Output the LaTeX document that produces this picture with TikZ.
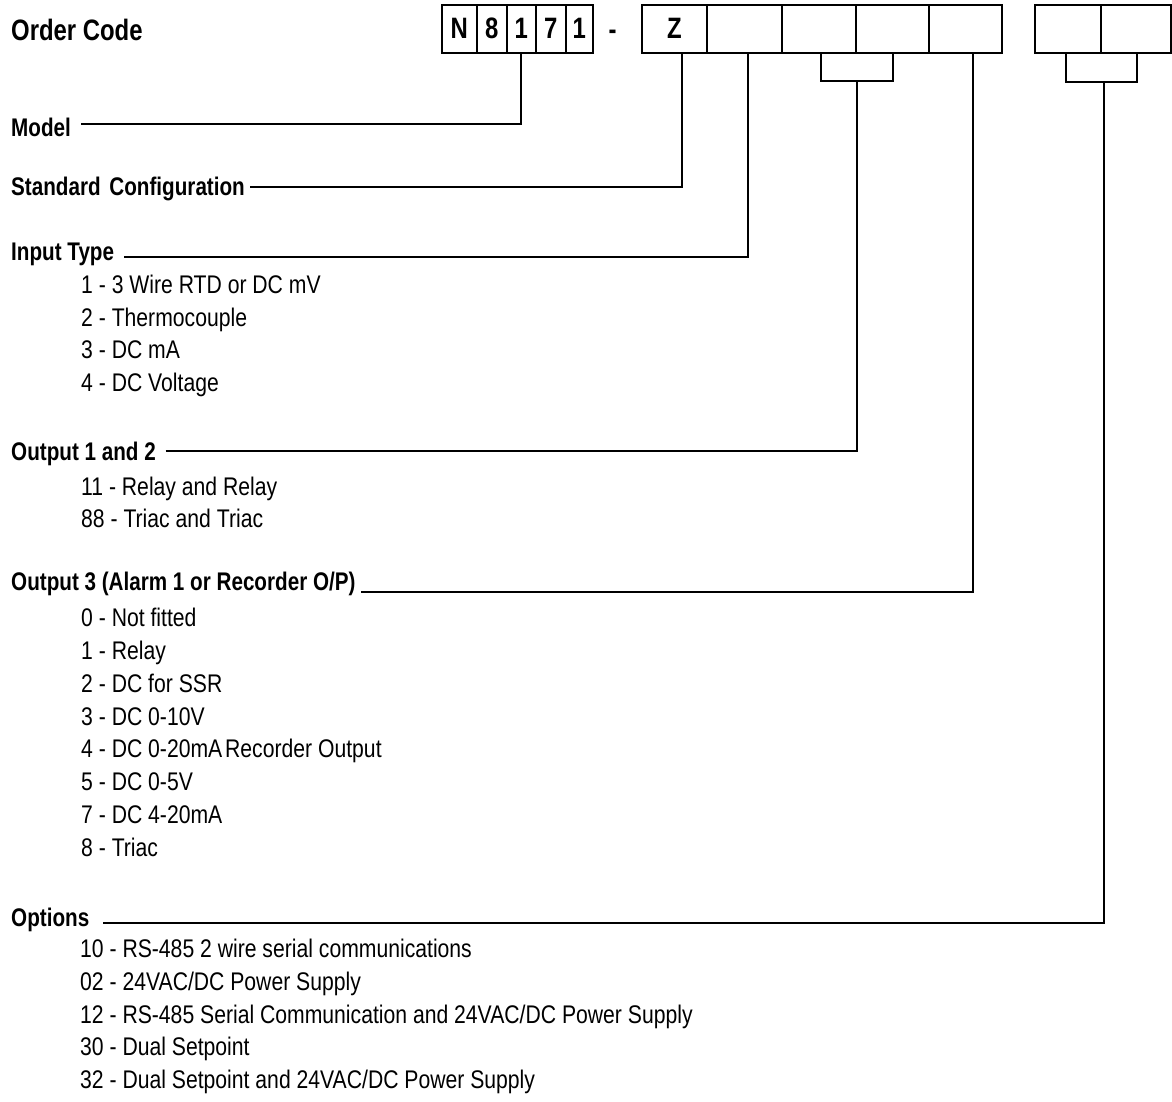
\documentclass[tikz,border=0pt]{standalone}
\usepackage{fontspec}
\setmainfont{Liberation Sans}[FakeStretch=0.83,BoldFeatures={FakeStretch=0.81}]
\begin{document}
\begin{tikzpicture}[x=1pt,y=-1pt,
  lbl/.style={anchor=base west,inner sep=0pt,font=\fontsize{25.5}{30}\selectfont\bfseries},
  itm/.style={anchor=base west,inner sep=0pt,font=\fontsize{25.5}{30}\selectfont},
  cell/.style={draw,line width=2pt,minimum height=48.3pt,inner sep=0pt,outer sep=0pt,anchor=west,
    font=\fontsize{29.5}{32}\selectfont\bfseries},
  wire/.style={line width=2pt}]
\useasboundingbox (0,0) rectangle (1172,1101);

% title
\node[anchor=base west,inner sep=0pt,font=\fontsize{29.5}{32}\selectfont\bfseries] (title) at (11,40) {Order Code};

% code boxes, group 1
\node[cell,minimum width=35pt] (c1) at (441.7,28.65) {N};
\node[cell,minimum width=30pt] (c2) at (476.7,28.65) {8};
\node[cell,minimum width=29.3pt] (c3) at (506.7,28.65) {1};
\node[cell,minimum width=29.7pt] (c4) at (536,28.65) {7};
\node[cell,minimum width=27pt] (c5) at (565.7,28.65) {1};
\node[anchor=base,inner sep=0pt,font=\fontsize{29.5}{32}\selectfont\bfseries] (dash) at (612.7,39.5) {-};
% group 2
\node[cell,minimum width=64.4pt] (z1) at (642.3,28.65) {Z};
\node[cell,minimum width=75.6pt] (z2) at (706.7,28.65) {};
\node[cell,minimum width=73.7pt] (z3) at (782.3,28.65) {};
\node[cell,minimum width=73.3pt] (z4) at (856,28.65) {};
\node[cell,minimum width=73pt] (z5) at (929.3,28.65) {};
% group 3
\node[cell,minimum width=66pt] (o1) at (1035,28.65) {};
\node[cell,minimum width=69.7pt] (o2) at (1101,28.65) {};

% labels
\node[lbl] (lModel) at (11,136.7) {Model};
\node[lbl] (lStd) at (11,195) {Standard\hspace{3pt} Configuration};
\node[lbl] (lIn) at (11,260.7) {Input Type};
\node[lbl] (lOut12) at (11,460.7) {Output 1 and 2};
\node[lbl] (lOut3) at (11,590) {Output 3 (Alarm 1 or Recorder O/P)};
\node[lbl] (lOpt) at (11,926.7) {Options};

% items
\node[itm] (i1) at (81,293.3) {1 - 3 Wire RTD or DC mV};
\node[itm] (i2) at (81,326.1) {2 - Thermocouple};
\node[itm] (i3) at (81,358.9) {3 - DC mA};
\node[itm] (i4) at (81,391.7) {4 - DC Voltage};

\node[itm] (r1) at (81,495) {11 - Relay and Relay};
\node[itm] (r2) at (81,527.6) {88 - Triac and Triac};

\node[itm] (a0) at (81,626.7) {0 - Not fitted};
\node[itm] (a1) at (81,659.5) {1 - Relay};
\node[itm] (a2) at (81,692.3) {2 - DC for SSR};
\node[itm] (a3) at (81,725.1) {3 - DC 0-10V};
\node[itm] (a4) at (81,757.9) {4 - DC 0-20mA\hspace{-3pt} Recorder Output};
\node[itm] (a5) at (81,790.7) {5 - DC 0-5V};
\node[itm] (a7) at (81,823.5) {7 - DC 4-20mA};
\node[itm] (a8) at (81,856.3) {8 - Triac};

\node[itm] (p1) at (80,957.7) {10 - RS-485 2 wire serial communications};
\node[itm] (p2) at (80,990.4) {02 - 24VAC/DC Power Supply};
\node[itm] (p3) at (80,1023.1) {12 - RS-485 Serial Communication and 24VAC/DC Power Supply};
\node[itm] (p4) at (80,1055.8) {30 - Dual Setpoint};
\node[itm] (p5) at (80,1088.5) {32 - Dual Setpoint and 24VAC/DC Power Supply};

% connector coordinates
\coordinate (mL) at (81,124);
\coordinate (sL) at (250,187.3);
\coordinate (sT) at (681.7,52.8);
\coordinate (iL) at (124,256.5);
\coordinate (iT) at (748.3,52.8);
\coordinate (oL) at (165.7,450.7);
\coordinate (k1) at (821,52.8);
\coordinate (k2) at (892.7,52.8);
\coordinate (k12) at (856.7,81);
\coordinate (tL) at (361,591.7);
\coordinate (tT) at (972.7,52.8);
\coordinate (qL) at (103.3,923);
\coordinate (q1) at (1066,52.8);
\coordinate (q2) at (1137.3,52.8);
\coordinate (q12) at (1103.7,82);

% connectors
\draw[wire] (mL) -| (c3.south);
\draw[wire] (sL) -| (sT);
\draw[wire] (iL) -| (iT);
\draw[wire] (k1) |- (k12) -| (k2);
\draw[wire] (oL) -| (k12);
\draw[wire] (tL) -| (tT);
\draw[wire] (q1) |- (q12) -| (q2);
\draw[wire] (qL) -| (q12);
\end{tikzpicture}
\end{document}
